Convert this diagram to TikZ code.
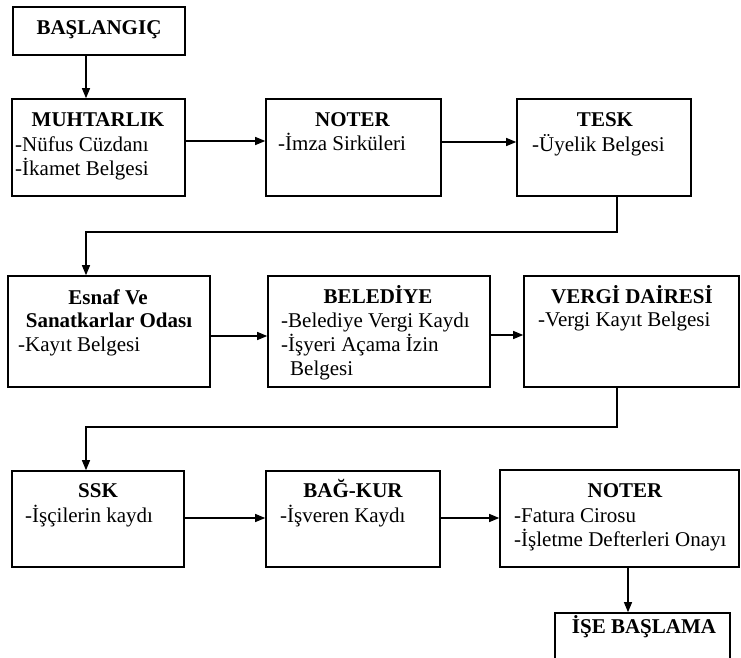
\documentclass[tikz,border=0pt]{standalone}
\usepackage{fontspec}
\setmainfont{Liberation Serif}
\usetikzlibrary{arrows.meta}
\begin{document}
\begin{tikzpicture}[x=1pt,y=-1pt,
  box/.style={draw, line width=1.6pt, inner sep=0pt, fill=white},
  ttl/.style={anchor=base, inner sep=0pt, font=\fontsize{21}{25}\selectfont\bfseries},
  bdy/.style={anchor=base west, inner sep=0pt, font=\fontsize{21}{25}\selectfont},
  arr/.style={line width=1.1pt, -{Triangle[length=10pt,width=8pt]}},
  ln/.style={line width=1.1pt}]
\useasboundingbox (0,0) rectangle (741,658);
% boxes
\node[box, minimum width=172pt, minimum height=48pt] (start) at (99,31) {};
\node[box, minimum width=173pt, minimum height=97pt] (muh) at (98.5,147.5) {};
\node[box, minimum width=175pt, minimum height=97pt] (not1) at (353.5,147.5) {};
\node[box, minimum width=174pt, minimum height=97pt] (tesk) at (604,147.5) {};
\node[box, minimum width=202pt, minimum height=111pt] (esnaf) at (109,331.5) {};
\node[box, minimum width=222pt, minimum height=111pt] (bel) at (379,331.5) {};
\node[box, minimum width=215pt, minimum height=111pt] (vergi) at (631.5,331.5) {};
\node[box, minimum width=172pt, minimum height=96pt] (ssk) at (98,519) {};
\node[box, minimum width=174pt, minimum height=96pt] (bag) at (353,519) {};
\node[box, minimum width=239pt, minimum height=97pt] (not3) at (619.5,518.5) {};
\node[box, minimum width=175pt, minimum height=87pt] (ise) at (642.5,656.5) {};
% texts
\node[ttl] (tstart) at (99,34.5) {BAŞLANGIÇ};
\node[ttl] (tmuh) at (98,127) {MUHTARLIK};
\node[bdy] (bmuh1) at (15,151) {-Nüfus Cüzdanı};
\node[bdy] (bmuh2) at (15,175) {-İkamet Belgesi};
\node[ttl] (tnot1) at (352.5,127) {NOTER};
\node[bdy] (bnot1) at (278,150) {-İmza Sirküleri};
\node[ttl] (ttesk) at (605,127) {TESK};
\node[bdy] (btesk) at (532,151) {-Üyelik Belgesi};
\node[ttl] (tesn1) at (108,304) {Esnaf Ve};
\node[ttl] (tesn2) at (109,327) {Sanatkarlar Odası};
\node[bdy] (besn) at (18,351) {-Kayıt Belgesi};
\node[ttl] (tbel) at (378,303) {BELEDİYE};
\node[bdy] (bbel1) at (281,327) {-Belediye Vergi Kaydı};
\node[bdy] (bbel2) at (281,351) {-İşyeri Açama İzin};
\node[bdy] (bbel3) at (290,375) {Belgesi};
\node[ttl] (tver) at (632,303) {VERGİ DAİRESİ};
\node[bdy] (bver) at (538,326) {-Vergi Kayıt Belgesi};
\node[ttl] (tssk) at (98,497) {SSK};
\node[bdy] (bssk) at (25,522) {-İşçilerin kaydı};
\node[ttl] (tbag) at (353,497) {BAĞ-KUR};
\node[bdy] (bbag) at (280,522) {-İşveren Kaydı};
\node[ttl] (tnot3) at (625,497) {NOTER};
\node[bdy] (bnot31) at (514,522) {-Fatura Cirosu};
\node[bdy] (bnot32) at (514,546) {-İşletme Defterleri Onayı};
\node[ttl] (tise) at (644,633) {İŞE BAŞLAMA};
% connectors
\draw[arr] (start.south -| 86,0) -- (muh.north -| 86,0);
\draw[arr] (muh.east |- 0,141) -- (not1.west |- 0,141);
\draw[arr] (not1.east |- 0,142) -- (tesk.west |- 0,142);
\draw[arr] (tesk.south -| 617,0) -- (617,232) -- (86,232) -- (esnaf.north -| 86,0);
\draw[arr] (esnaf.east |- 0,336) -- (bel.west |- 0,336);
\draw[arr] (bel.east |- 0,335) -- (vergi.west |- 0,335);
\draw[arr] (vergi.south -| 617,0) -- (617,427) -- (86,427) -- (ssk.north -| 86,0);
\draw[arr] (ssk.east |- 0,518) -- (bag.west |- 0,518);
\draw[arr] (bag.east |- 0,518) -- (not3.west |- 0,518);
\draw[arr] (not3.south -| 628,0) -- (ise.north -| 628,0);
\end{tikzpicture}
\end{document}
